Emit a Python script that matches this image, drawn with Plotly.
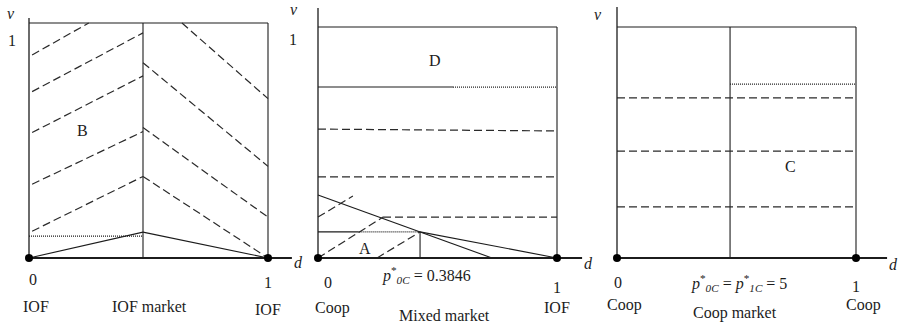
import plotly.graph_objects as go

# ---------------- data: (d0, v0, d1, v1) segments on each panel's unit square ----------------
PANEL_TITLES = ["IOF market", "Mixed market", "Coop market"]

# Panel 1: IOF market
P1_MID_D = 0.477
P1_DASHED = [
    (0.013, 0.864, 0.250, 1.000),
    (0.013, 0.708, 0.477, 0.958),
    (0.013, 0.534, 0.477, 0.775),
    (0.013, 0.314, 0.477, 0.538),
    (0.013, 0.114, 0.477, 0.347),
    (0.640, 1.000, 1.000, 0.678),
    (0.477, 0.831, 1.000, 0.390),
    (0.477, 0.555, 1.000, 0.174),
    (0.477, 0.347, 1.000, 0.000),
]
P1_DOTTED = [(0.000, 0.093, 0.477, 0.093)]
P1_SOLID = [(0.000, 0.000, 0.477, 0.110), (0.477, 0.110, 1.000, 0.000)]

# Panel 2: Mixed market
P2_CUT_D = 0.427
P2_SOLID = [
    (0.000, 0.740, 0.565, 0.740),
    (0.000, 0.273, 0.728, 0.000),
    (0.427, 0.113, 1.000, 0.000),
    (0.000, 0.113, 0.170, 0.113),
]
P2_DOTTED = [(0.565, 0.740, 1.000, 0.740), (0.170, 0.113, 0.427, 0.113)]
P2_DASHED = [
    (0.000, 0.558, 1.000, 0.550),
    (0.000, 0.351, 1.000, 0.351),
    (0.272, 0.177, 1.000, 0.177),
    (0.000, 0.177, 0.146, 0.268),
    (0.000, 0.000, 0.272, 0.177),
    (0.247, 0.000, 0.427, 0.113),
]

# Panel 3: Coop market
P3_MID_D = 0.473
P3_DOTTED = [(0.473, 0.753, 1.000, 0.753)]
P3_DASHED = [
    (0.000, 0.693, 1.000, 0.693),
    (0.000, 0.463, 1.000, 0.463),
    (0.000, 0.221, 1.000, 0.221),
]

# axis extents (in d / v units)
X_AXIS_END = [1.100, 1.105, 1.130]
Y_AXIS_END = [1.021, 1.082, 1.087]

# labels: (text, d, v)
P1_LABELS = [
    ("<i>v</i>", -0.075, 1.042), ("1", -0.071, 0.924), ("<i>d</i>", 1.126, -0.021),
    ("B", 0.222, 0.542), ("0", 0.017, -0.093), ("1", 1.000, -0.106),
    ("IOF", 0.029, -0.208), ("IOF market", 0.506, -0.208), ("IOF", 1.000, -0.220),
]
P2_LABELS = [
    ("<i>v</i>", -0.100, 1.075), ("1", -0.105, 0.944), ("<i>d</i>", 1.130, -0.022),
    ("D", 0.490, 0.857), ("A", 0.197, 0.043), ("0", 0.042, -0.104),
    ("<i>p</i><sup>*</sup><sub><i>0C</i></sub> = 0.3846", 0.456, -0.074),
    ("1", 1.000, -0.128), ("Coop", 0.059, -0.216), ("Mixed market", 0.531, -0.247),
    ("IOF", 1.000, -0.214),
]
P3_LABELS = [
    ("<i>v</i>", -0.079, 1.052), ("<i>d</i>", 1.155, -0.030), ("C", 0.728, 0.398),
    ("0", 0.004, -0.108),
    ("<i>p</i><sup>*</sup><sub><i>0C</i></sub> = <i>p</i><sup>*</sup><sub><i>1C</i></sub> = 5", 0.510, -0.108),
    ("1", 1.000, -0.124), ("Coop", 0.033, -0.203), ("Coop market", 0.494, -0.238),
    ("Coop", 1.030, -0.205),
]

# ---------------- layout geometry (pixels) ----------------
W, H = 899, 324
# box left px, box right px, v=0 px, v=1 px, domain start px, domain end px
GEOM = [
    (29, 268, 258, 23, 0, 300),
    (318, 557, 258, 27, 283, 600),
    (617, 856, 258, 27, 585, 899),
]

INK = "#1c1c1c"
DASH = "#2a2a2a"
FONT = "Liberation Serif"

fig = go.Figure()


def seg_trace(segs, axn, color, width, dash):
    xs, ys = [], []
    for d0, v0, d1, v1 in segs:
        xs += [d0, d1, None]
        ys += [v0, v1, None]
    suffix = "" if axn == 1 else str(axn)
    fig.add_trace(go.Scatter(
        x=xs, y=ys, mode="lines", xaxis="x" + suffix, yaxis="y" + suffix,
        line=dict(color=color, width=width, dash=dash), hoverinfo="skip",
        showlegend=False, cliponaxis=False,
    ))


panels = [
    dict(solid=P1_SOLID + [(P1_MID_D, 0, P1_MID_D, 1)], dashed=P1_DASHED, dotted=P1_DOTTED, labels=P1_LABELS),
    dict(solid=P2_SOLID + [(P2_CUT_D, 0, P2_CUT_D, 0.113)], dashed=P2_DASHED, dotted=P2_DOTTED, labels=P2_LABELS),
    dict(solid=[(P3_MID_D, 0, P3_MID_D, 1)], dashed=P3_DASHED, dotted=P3_DOTTED, labels=P3_LABELS),
]

layout = dict(
    width=W, height=H, margin=dict(l=0, r=0, t=0, b=0), autosize=False,
    paper_bgcolor="white", plot_bgcolor="rgba(0,0,0,0)", showlegend=False,
)
annotations = []

for i, p in enumerate(panels):
    n = i + 1
    left, right, y0, y1, ds, de = GEOM[i]
    sx = right - left
    sy = y0 - y1
    suffix = "" if n == 1 else str(n)
    layout["xaxis" + suffix] = dict(
        domain=[ds / W, de / W], range=[(ds - left) / sx, (de - left) / sx],
        visible=False, fixedrange=True, anchor="y" + suffix,
    )
    layout["yaxis" + suffix] = dict(
        domain=[0, 1], range=[(y0 - H) / sy, y0 / sy],
        visible=False, fixedrange=True, anchor="x" + suffix,
    )
    # box (top and right sides)
    seg_trace([(0, 1, 1, 1), (1, 1, 1, 0)], n, INK, 1.1, "solid")
    # inner lines
    seg_trace(p["solid"], n, INK, 1.1, "solid")
    seg_trace(p["dashed"], n, DASH, 1.2, "8px,4px")
    seg_trace(p["dotted"], n, INK, 1.2, "1px,1px")
    # axes
    seg_trace([(0, 0, 0, Y_AXIS_END[i])], n, INK, 1.3, "solid")
    seg_trace([(0, 0, X_AXIS_END[i], 0)], n, INK, 2.0, "solid")
    # endpoints
    fig.add_trace(go.Scatter(
        x=[0, 1], y=[0, 0], mode="markers", xaxis="x" + suffix, yaxis="y" + suffix,
        marker=dict(color="black", size=8), hoverinfo="skip", showlegend=False, cliponaxis=False,
    ))
    for text, d, v in p["labels"]:
        annotations.append(dict(
            text=text, x=d, y=v, xref="x" + suffix, yref="y" + suffix,
            showarrow=False, xanchor="center", yanchor="middle",
            font=dict(family=FONT, size=16, color=INK),
        ))

layout["annotations"] = annotations
fig.update_layout(**layout)
fig.write_html(
    "out.html",
    config={"displayModeBar": False, "staticPlot": True},
    post_script="document.body.style.margin='0';document.body.style.overflow='hidden';",
)
